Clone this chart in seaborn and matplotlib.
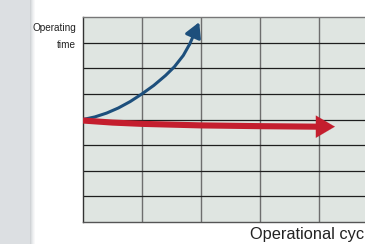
import numpy as np
import pandas as pd
import matplotlib
matplotlib.use("Agg")
import matplotlib.pyplot as plt
import seaborn as sns
from matplotlib.patches import Rectangle

# data
blue_x = [0, 0.2, 0.4, 0.6, 0.8, 1.0, 1.2, 1.4, 1.55, 1.7, 1.81]
blue_y = [4.0, 4.1, 4.25, 4.45, 4.7, 5.0, 5.33, 5.72, 6.06, 6.5, 6.95]
blue_tip = (1.97, 7.8)
red_x = [0, 0.5, 1.0, 2.0, 3.0, 3.95]
red_y = [3.96, 3.88, 3.83, 3.77, 3.74, 3.72]
red_tip = (4.27, 3.72)
y_label = "Operating\ntime"
x_label = "Operational cyc"

sns.set_theme(style="white")
plt.rcParams['font.family'] = ['Liberation Sans', 'DejaVu Sans']

fig = plt.figure(figsize=(3.65, 2.44), dpi=100)
fig.patch.set_facecolor("white")

# left grey strip with soft shadow
fig.patches.append(Rectangle((0, 0), 30/365, 1, transform=fig.transFigure,
                             facecolor="#dcdfe2", edgecolor="none", zorder=0))
for i, c in enumerate(["#d0d3d6", "#dde0e2", "#e8eaec", "#f1f2f3", "#f8f8f9"]):
    fig.patches.append(Rectangle(((30 + i)/365, 0), 1/365, 1, transform=fig.transFigure,
                                 facecolor=c, edgecolor="none", zorder=0))

ax = fig.add_axes([83/365, 1 - 222/244, 1 - 83/365, (222 - 17)/244])
ax.set_facecolor("#dfe5e1")
ax.set_xlim(0, (365 - 83)/59)
ax.set_ylim(0, 8)
for v in range(1, 5):
    ax.axvline(v, color="#6e6e6e", lw=1.0, zorder=1)
for h in range(1, 8):
    ax.axhline(h, color="#1e1e1e", lw=0.9, zorder=1)
ax.spines["left"].set_color("#333333")
ax.spines["bottom"].set_color("#555555")
ax.spines["top"].set_color("#777777")
ax.spines["right"].set_visible(False)
for s in ["left", "bottom", "top"]:
    ax.spines[s].set_linewidth(1.0)
ax.set_xticks([]); ax.set_yticks([])

blue_df = pd.DataFrame({"x": blue_x, "y": blue_y})
red_df = pd.DataFrame({"x": red_x, "y": red_y})
sns.lineplot(data=blue_df, x="x", y="y", color="#1d4f7c", lw=2.2, ax=ax,
             sort=False, zorder=3, solid_capstyle="butt", solid_joinstyle="round")
sns.lineplot(data=red_df, x="x", y="y", color="#c41e2e", lw=4.4, ax=ax,
             sort=False, zorder=4, solid_capstyle="butt", solid_joinstyle="round")
ax.annotate("", xy=blue_tip, xytext=(blue_x[-1], blue_y[-1]),
            arrowprops=dict(arrowstyle="-|>,head_length=0.45,head_width=0.25",
                            mutation_scale=20, color="#1d4f7c", lw=2.2,
                            shrinkA=0, shrinkB=0), zorder=3)
ax.annotate("", xy=red_tip, xytext=(red_x[-1], red_y[-1]),
            arrowprops=dict(arrowstyle="-|>,head_length=0.68,head_width=0.4",
                            mutation_scale=20, color="#c41e2e", lw=0.1,
                            shrinkA=0, shrinkB=0), zorder=4)
ax.set_xlabel(""); ax.set_ylabel("")

fig.text(76/365, 1 - 36.5/244, y_label, ha="right", va="center", fontsize=7.2,
         color="#222222", linespacing=1.9)
fig.text(250/365, 1 - 235/244, x_label, ha="left", va="center", fontsize=11.8,
         color="#222222")

fig.savefig("out.png", dpi=100)
